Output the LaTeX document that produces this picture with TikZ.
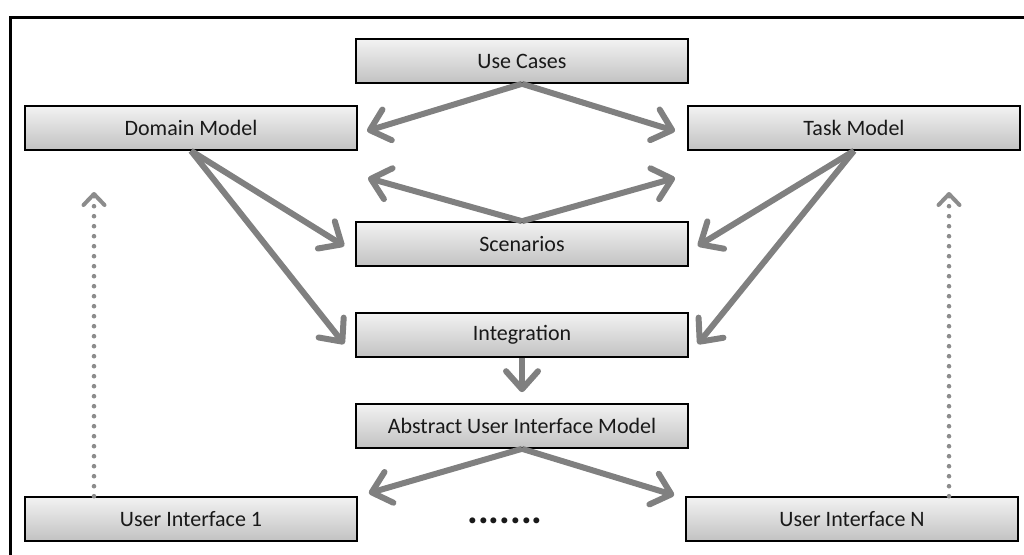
\documentclass[tikz,border=0pt]{standalone}
\usepackage{fontspec}
\setmainfont{Carlito}
\usetikzlibrary{arrows.meta}
\begin{document}
\begin{tikzpicture}[x=1pt,y=-1pt,
  block/.style={draw=black, line width=1.6pt, minimum width=332pt, minimum height=44pt,
    inner sep=0pt, top color=black!5, bottom color=black!24,
    font=\fontsize{22}{26}\selectfont, text=black!90},
  flow/.style={draw=black!50, line width=6pt,
    -{Straight Barb[length=18pt,width=32pt,round]}},
  trace/.style={draw=black!45, line width=4.6pt, line cap=round,
    dash pattern=on 0pt off 10pt,
    -{Straight Barb[length=11pt,width=21pt,line width=4pt,round]}},
]
\useasboundingbox (0,0) rectangle (1024,554);

% outer frame (only its top and left sides fall inside the page)
\draw[line width=3.2pt] (10.5,560) -- (10.5,17.5) -- (1030,17.5);

% model blocks
\node[block] (uc) at (522,61)  {Use Cases};
\node[block] (dm) at (191,128) {Domain Model};
\node[block] (tm) at (854,128) {Task Model};
\node[block] (sc) at (522,244) {Scenarios};
\node[block] (ig) at (522,335) {Integration};
\node[block] (au) at (522,426) {Abstract User Interface Model};
\node[block] (u1) at (191,519) {User Interface 1};
\node[block] (un) at (852,519) {User Interface N};
\node[font=\bfseries\fontsize{40}{42}\selectfont, text=black!90, inner sep=0pt] (more) at (505,521) {.......};

% free arrow ends
\coordinate (ucL) at (367,131);
\coordinate (ucR) at (675,131);
\coordinate (scL) at (368,178);
\coordinate (scR) at (675,178);
\coordinate (d1) at (94,192);
\coordinate (dn) at (949,192);

% derivation arrows
\draw[flow] (uc.south) -- (ucL);
\draw[flow] (uc.south) -- (ucR);
\draw[flow] (sc.north) -- (scL);
\draw[flow] (sc.north) -- (scR);
\draw[flow] (dm.south) -- ([xshift=-11pt,yshift=-2pt]sc.west);
\draw[flow] (dm.south) -- ([xshift=-11pt,yshift=-9pt]ig.west);
\draw[flow] (tm.south) -- ([xshift=9pt,yshift=-2pt]sc.east);
\draw[flow] (tm.south) -- ([xshift=9pt,yshift=-9pt]ig.east);
\draw[flow] (ig.south) -- ([yshift=11pt]au.north);
\draw[flow] (au.south) -- ([xshift=11pt,yshift=3pt]u1.north east);
\draw[flow] (au.south) -- ([xshift=-11pt,yshift=1pt]un.north west);

% feedback from the concrete interfaces
\draw[trace] (u1.north -| d1) -- (d1);
\draw[trace] (un.north -| dn) -- (dn);
\end{tikzpicture}
\end{document}
